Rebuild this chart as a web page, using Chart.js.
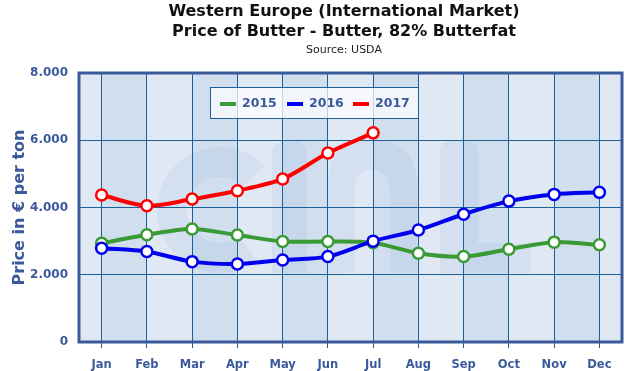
<!DOCTYPE html>
<html><head><meta charset="utf-8">
<script src="https://cdn.jsdelivr.net/npm/chart.js@4/dist/chart.umd.min.js"></script>
<style>html,body{margin:0;padding:0;background:#fff}#w{width:630px;height:371px}</style>
</head><body><div id="w"><canvas id="c" width="630" height="371"></canvas></div>
<script>
const months = ["Jan","Feb","Mar","Apr","May","Jun","Jul","Aug","Sep","Oct","Nov","Dec"];
const seriesNames = ["2015","2016","2017"];
const v2015 = [2940,3190,3360,3180,2990,2990,2950,2640,2540,2760,2970,2890];
const v2016 = [2790,2690,2390,2320,2440,2540,3000,3330,3800,4190,4390,4450];
const v2017 = [4370,4050,4250,4500,4850,5620,6220,null,null,null,null,null];
const yTicks = [0,2000,4000,6000,8000];
const titleLines = ["Western Europe (International Market)","Price of Butter - Butter, 82% Butterfat"];
const subtitle = "Source: USDA";
const yTitle = "Price in € per ton";
const colors = ["#3a9a35","#0000ee","#ff0000"];
const axisBlue = "#3b5a9c";
const gridBlue = "#1c6099";

function roundRect(ctx,x,y,w,h,r){
  ctx.beginPath();
  ctx.moveTo(x+r,y);ctx.lineTo(x+w-r,y);ctx.quadraticCurveTo(x+w,y,x+w,y+r);
  ctx.lineTo(x+w,y+h);ctx.lineTo(x,y+h);ctx.lineTo(x,y+r);ctx.quadraticCurveTo(x,y,x+r,y);
  ctx.closePath();ctx.fill();
}

const bgPlugin = {
  id:'bg',
  beforeDraw(chart){
    const {ctx, chartArea:a, scales:{x}} = chart;
    ctx.save();
    ctx.fillStyle = "#e0e8f4";
    ctx.fillRect(a.left,a.top,a.right-a.left,a.bottom-a.top);
    ctx.fillStyle = "#d1deee";
    for(let i=0;i<months.length-1;i+=2){
      const x0 = x.getPixelForValue(i), x1 = x.getPixelForValue(i+1);
      ctx.fillRect(x0,a.top,x1-x0,a.bottom-a.top);
    }
    // faint logo watermark
    ctx.fillStyle = "rgba(150,180,222,0.16)";
    ctx.strokeStyle = "rgba(150,180,222,0.16)";
    ctx.lineWidth = 30;
    ctx.beginPath(); ctx.arc(220,210,48,0.3*Math.PI,1.75*Math.PI); ctx.stroke();
    roundRect(ctx,272,140,35,133,17);
    ctx.beginPath();
    ctx.moveTo(328,273);ctx.lineTo(328,185);ctx.quadraticCurveTo(328,140,372,140);
    ctx.quadraticCurveTo(417,140,417,185);ctx.lineTo(417,273);ctx.lineTo(390,273);ctx.lineTo(390,190);
    ctx.quadraticCurveTo(390,170,372,170);ctx.quadraticCurveTo(355,170,355,190);ctx.lineTo(355,273);ctx.closePath();ctx.fill();
    ctx.beginPath();
    ctx.moveTo(440,150);ctx.quadraticCurveTo(440,140,459,140);ctx.quadraticCurveTo(478,140,478,150);
    ctx.lineTo(478,243);ctx.lineTo(530,243);ctx.lineTo(530,273);ctx.lineTo(440,273);ctx.closePath();ctx.fill();
    ctx.restore();
    // titles
    ctx.save();
    ctx.fillStyle="#111";
    ctx.textAlign="center";ctx.textBaseline="middle";
    ctx.font="bold 16px 'DejaVu Sans'";
    ctx.fillText(titleLines[0],344,12);
    ctx.fillText(titleLines[1],344,32);
    ctx.font="11px 'DejaVu Sans'";
    ctx.fillStyle="#222";
    ctx.fillText(subtitle,344,50);
    ctx.restore();
  },
  afterDatasetsDraw(chart){
    const {ctx, chartArea:a} = chart;
    ctx.save();
    ctx.strokeStyle = axisBlue; ctx.lineWidth=3;
    ctx.strokeRect(a.left,a.top,a.right-a.left,a.bottom-a.top);
    const lx=210, ly=87, lw=208, lh=31;
    ctx.fillStyle="rgba(255,255,255,0.72)";
    ctx.fillRect(lx,ly,lw,lh);
    ctx.strokeStyle=gridBlue; ctx.lineWidth=1;
    ctx.strokeRect(lx+0.5,ly+0.5,lw,lh);
    const xs=[220,287,353];
    ctx.font="bold 12.5px 'DejaVu Sans'";
    ctx.textBaseline="middle";
    for(let i=0;i<3;i++){
      ctx.strokeStyle=colors[i]; ctx.lineWidth=4;
      ctx.beginPath(); ctx.moveTo(xs[i],104); ctx.lineTo(xs[i]+16,104); ctx.stroke();
      ctx.fillStyle=axisBlue;
      ctx.fillText(seriesNames[i],xs[i]+22,104);
    }
    ctx.restore();
  }
};

const mk = (label,data,color)=>({label,data,borderColor:color,backgroundColor:"#fff",borderWidth:4,
  pointRadius:5.5,pointBorderWidth:2.5,pointBackgroundColor:"#fff",pointBorderColor:color,tension:0.3,spanGaps:false});

new Chart(document.getElementById('c'),{
  type:'line',
  data:{labels:months,datasets:[mk(seriesNames[2],v2017,colors[2]),mk(seriesNames[1],v2016,colors[1]),mk(seriesNames[0],v2015,colors[0])]},
  options:{
    responsive:false,animation:false,
    layout:{padding:{top:73,right:8,left:0,bottom:0}},
    plugins:{legend:{display:false},tooltip:{enabled:false}},
    scales:{
      x:{offset:true,
        grid:{offset:false,color:gridBlue,lineWidth:1,tickLength:6,tickColor:gridBlue,drawOnChartArea:true},
        border:{display:false},
        ticks:{color:axisBlue,font:{family:"'DejaVu Sans'",weight:'bold',size:11.5},padding:10,maxRotation:0},
        afterFit(s){s.height=29;}
      },
      y:{min:0,max:8000,
        afterBuildTicks(s){s.ticks=yTicks.map(v=>({value:v}));},
        grid:{color:gridBlue,lineWidth:1,drawTicks:false},
        border:{display:false},
        ticks:{color:axisBlue,font:{family:"'DejaVu Sans'",weight:'bold',size:12},padding:11,
          callback:v=>v.toLocaleString('de-DE')},
        title:{display:true,text:yTitle,color:axisBlue,font:{family:"'DejaVu Sans'",weight:'bold',size:16},padding:{top:10,bottom:4}},
        afterFit(s){s.width=79;}
      }
    }
  },
  plugins:[bgPlugin]
});
</script></body></html>
